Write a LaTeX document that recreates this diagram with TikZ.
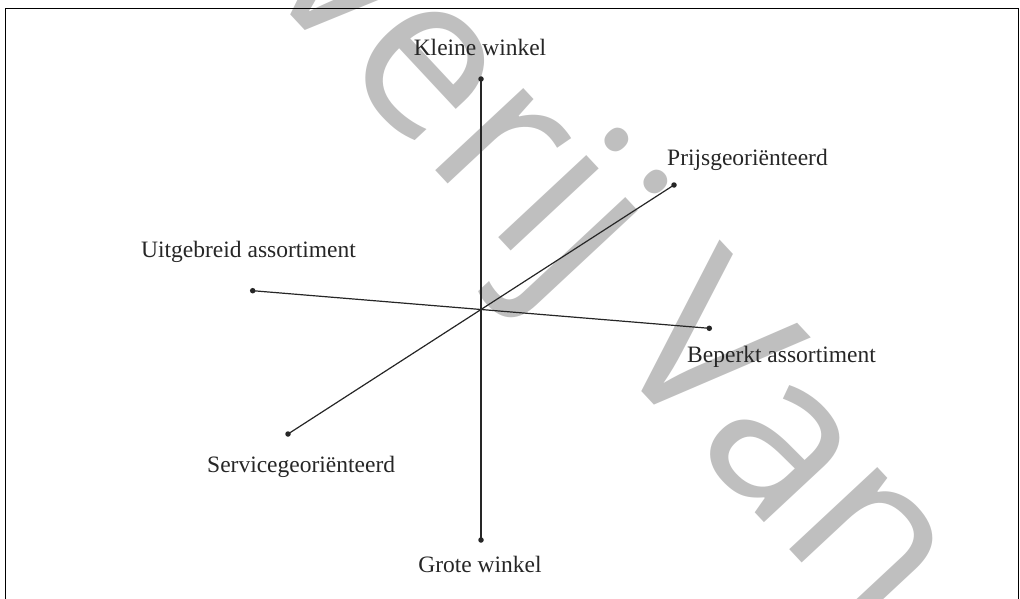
\documentclass[tikz,border=0pt]{standalone}
\usepackage{fontspec}
\setmainfont{Liberation Serif}
\newfontfamily\stampfont{Open Sans}
\usetikzlibrary{positioning}

\tikzset{
  axisline/.style={line width=1.2pt, black!85},
  enddot/.style={circle, fill=black!85, inner sep=0pt, minimum size=5.5pt},
  axislabel/.style={font=\fontsize{23.5}{28}\selectfont, text=black!85, inner sep=0pt},
  stamp/.style={font=\stampfont\fontsize{225}{250}\selectfont, text=gray!50, rotate=-47, inner sep=0pt}
}

\begin{document}
\begin{tikzpicture}[x=1pt,y=-1pt]
\useasboundingbox (0,0) rectangle (1020,599);
\clip (0,0) rectangle (1020,599);

% stamp across the page
\node[stamp, anchor=base east] (stamp) at (871,637) {Uitgeverij Van};

% frame
\draw[line width=1.5pt] (5.5,620) -- (5.5,8.5) -- (1018.5,8.5) -- (1018.5,620);

% axes
\coordinate (mid) at (481,309.5);
\node[enddot] (kw) at (481,79) {};
\node[enddot] (gw) at (481,540) {};
\node[enddot] (pg) at (674,185) {};
\node[enddot] (sg) at (288,434) {};
\node[enddot] (ua) at (252.7,290.7) {};
\node[enddot] (ba) at (709.3,328.3) {};

\draw[axisline] (kw.center) -- (gw.center);
\draw[axisline] (pg.center) -- (sg.center);
\draw[axisline] (ua.center) -- (ba.center);

% labels
\node[axislabel, anchor=base] (kwlabel) at (480,56) {Kleine winkel};
\node[axislabel, anchor=base] (gwlabel) at (480,572) {Grote winkel};
\node[axislabel, anchor=base west] (pglabel) at (667,165) {Prijsgeoriënteerd};
\node[axislabel, anchor=base west] (sglabel) at (207,472) {Servicegeoriënteerd};
\node[axislabel, anchor=base west] (ualabel) at (141,257) {Uitgebreid assortiment};
\node[axislabel, anchor=base west] (balabel) at (687,362.7) {Beperkt assortiment};

\end{tikzpicture}
\end{document}
